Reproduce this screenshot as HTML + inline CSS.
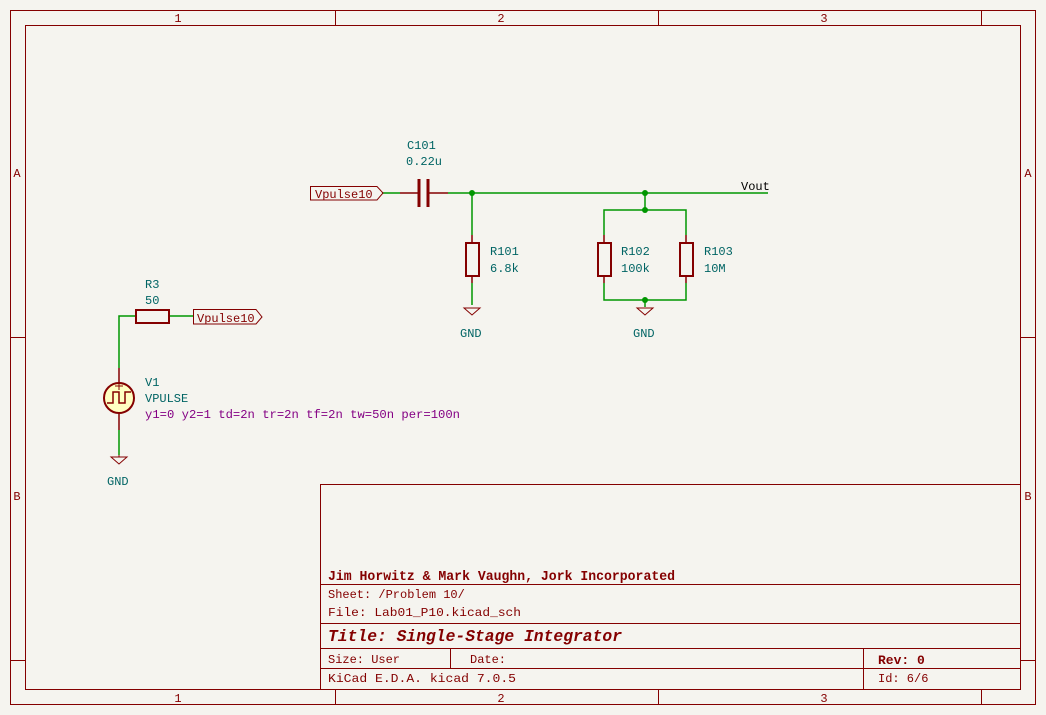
<!DOCTYPE html>
<html><head><meta charset="utf-8"><style>
html,body{margin:0;padding:0;background:#f5f4ef;}
svg{display:block;}
text{font-family:"Liberation Mono","DejaVu Sans Mono",monospace;}
</style></head><body>
<svg width="1046" height="715" viewBox="0 0 1046 715" xmlns="http://www.w3.org/2000/svg">
<rect width="1046" height="715" fill="#f5f4ef"/>
<g stroke="#840000" stroke-width="1" fill="none">
<rect x="10.5" y="10.5" width="1025" height="694"/>
<rect x="25.5" y="25.5" width="995" height="664"/>
<line x1="335.5" y1="10" x2="335.5" y2="25"/><line x1="658.5" y1="10" x2="658.5" y2="25"/><line x1="981.5" y1="10" x2="981.5" y2="25"/>
<line x1="335.5" y1="690" x2="335.5" y2="705"/><line x1="658.5" y1="690" x2="658.5" y2="705"/><line x1="981.5" y1="690" x2="981.5" y2="705"/>
<line x1="10" y1="337.5" x2="25" y2="337.5"/><line x1="1020" y1="337.5" x2="1036" y2="337.5"/>
<line x1="10" y1="660.5" x2="25" y2="660.5"/><line x1="1020" y1="660.5" x2="1036" y2="660.5"/>
<rect x="320.5" y="484.5" width="700" height="205"/>
<line x1="320" y1="584.5" x2="1020" y2="584.5"/>
<line x1="320" y1="623.5" x2="1020" y2="623.5"/>
<line x1="320" y1="648.5" x2="1020" y2="648.5"/>
<line x1="320" y1="668.5" x2="1020" y2="668.5"/>
<line x1="450.5" y1="648" x2="450.5" y2="668"/>
<line x1="863.5" y1="648" x2="863.5" y2="690"/>
</g>
<g fill="#840000" font-size="12" text-anchor="middle">
<text x="178" y="22">1</text><text x="501" y="22">2</text><text x="824" y="22">3</text>
<text x="178" y="702">1</text><text x="501" y="702">2</text><text x="824" y="702">3</text>
<text x="17" y="177">A</text><text x="1028" y="177">A</text>
<text x="17" y="500">B</text><text x="1028" y="500">B</text>
</g>
<g fill="#840000">
<text x="328" y="580" font-size="14" font-weight="bold" textLength="347" lengthAdjust="spacingAndGlyphs">Jim Horwitz &amp; Mark Vaughn, Jork Incorporated</text>
<text x="328" y="598" font-size="12">Sheet: /Problem 10/</text>
<text x="328" y="616" font-size="12" textLength="193" lengthAdjust="spacingAndGlyphs">File: Lab01_P10.kicad_sch</text>
<text x="328" y="641" font-size="17" font-weight="bold" font-style="italic" textLength="294" lengthAdjust="spacingAndGlyphs">Title: Single-Stage Integrator</text>
<text x="328" y="663" font-size="12">Size: User</text>
<text x="470" y="663" font-size="12">Date:</text>
<text x="878" y="664" font-size="13" font-weight="bold">Rev: 0</text>
<text x="328" y="682" font-size="12" textLength="188" lengthAdjust="spacingAndGlyphs">KiCad E.D.A.  kicad 7.0.5</text>
<text x="878" y="682" font-size="12">Id: 6/6</text>
</g>
<g stroke="#009600" stroke-width="1.5" fill="none">
<line x1="382" y1="193" x2="400" y2="193"/>
<line x1="448" y1="193" x2="768" y2="193"/>
<line x1="472" y1="193" x2="472" y2="235"/>
<line x1="472" y1="283" x2="472" y2="305"/>
<line x1="645" y1="193" x2="645" y2="210"/>
<polyline points="604,235 604,210 686,210 686,235"/>
<polyline points="604,283 604,300 686,300 686,283"/>
<line x1="645" y1="300" x2="645" y2="307"/>
<polyline points="136,316 119,316 119,368"/>
<line x1="169" y1="316" x2="193" y2="316"/>
<line x1="119" y1="430" x2="119" y2="455"/>
</g>
<g fill="#009600">
<circle cx="472" cy="193" r="3"/><circle cx="645" cy="193" r="3"/><circle cx="645" cy="210" r="3"/><circle cx="645" cy="300" r="3"/>
</g>
<g stroke="#840000" fill="none" stroke-width="1.5">
<line x1="400" y1="193" x2="419" y2="193"/><line x1="429" y1="193" x2="448" y2="193"/>
<line x1="419" y1="179" x2="419" y2="207" stroke-width="3"/><line x1="428" y1="179" x2="428" y2="207" stroke-width="3"/>
<line x1="472" y1="235" x2="472" y2="243"/><line x1="472" y1="276" x2="472" y2="283"/>
<rect x="466" y="243" width="13" height="33" stroke-width="2"/>
<line x1="604" y1="235" x2="604" y2="243"/><line x1="604" y1="276" x2="604" y2="283"/>
<rect x="598" y="243" width="13" height="33" stroke-width="2"/>
<line x1="686" y1="235" x2="686" y2="243"/><line x1="686" y1="276" x2="686" y2="283"/>
<rect x="680" y="243" width="13" height="33" stroke-width="2"/>
<rect x="136" y="310" width="33" height="13" stroke-width="2"/>
<line x1="119" y1="368" x2="119" y2="383"/><line x1="119" y1="413" x2="119" y2="430"/>
<circle cx="119" cy="398" r="15" fill="#ffffc2" stroke-width="2"/>
<polyline points="107,403 113,403 113,392 119,392 119,403 125,403 125,392 131,392" stroke-width="1.5"/>
<line x1="115" y1="386" x2="123" y2="386" stroke-width="1"/><line x1="119" y1="382" x2="119" y2="390" stroke-width="1"/>
<path d="M464 308 H480 L472 315 Z" stroke-width="1"/>
<path d="M637 308 H653 L645 315 Z" stroke-width="1"/>
<path d="M111 457 H127 L119 464 Z" stroke-width="1"/>
<line x1="119" y1="455" x2="119" y2="457" stroke-width="1"/>
<path d="M310.5 186.5 H377 L383 193 L377 200 H310.5 Z" stroke-width="1"/>
<path d="M193.5 309.5 H256 L262 317 L256 324 H193.5 Z" stroke-width="1"/>
</g>
<g fill="#840000" font-size="12">
<text x="315" y="198">Vpulse10</text>
<text x="197" y="322">Vpulse10</text>
</g>
<g fill="#000" font-size="12"><text x="741" y="190">Vout</text></g>
<g fill="#006464" font-size="12">
<text x="407" y="149">C101</text><text x="406" y="165">0.22u</text>
<text x="490" y="255">R101</text><text x="490" y="272">6.8k</text>
<text x="621" y="255">R102</text><text x="621" y="272">100k</text>
<text x="704" y="255">R103</text><text x="704" y="272">10M</text>
<text x="460" y="337">GND</text><text x="633" y="337">GND</text><text x="107" y="485">GND</text>
<text x="145" y="288">R3</text><text x="145" y="304">50</text>
<text x="145" y="386">V1</text><text x="145" y="402">VPULSE</text>
</g>
<text x="145" y="418" fill="#840084" font-size="12" textLength="315" lengthAdjust="spacingAndGlyphs">y1=0 y2=1 td=2n tr=2n tf=2n tw=50n per=100n</text>
</svg>
</body></html>
